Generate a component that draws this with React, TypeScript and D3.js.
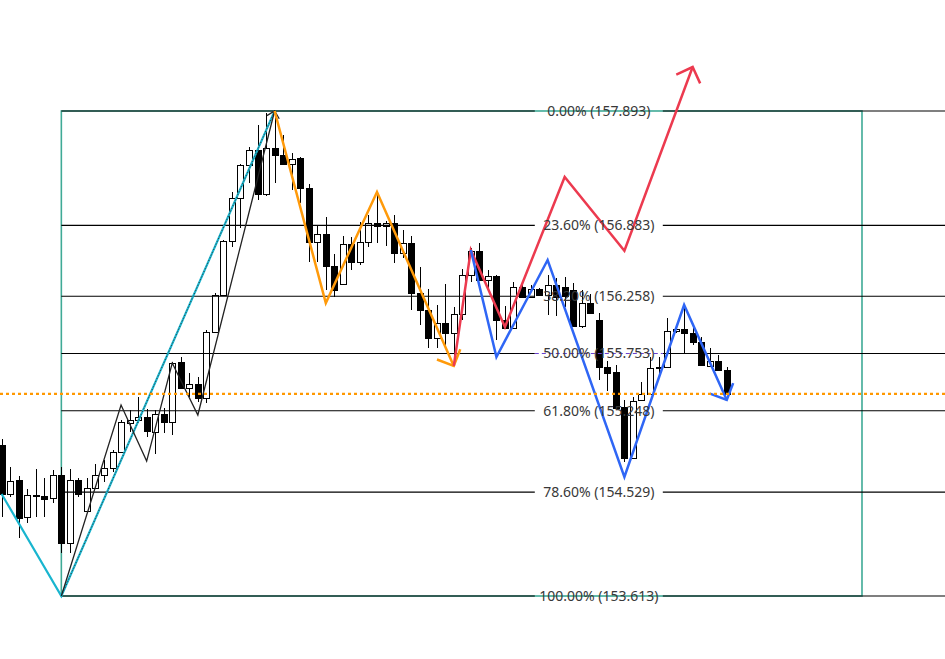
import React from 'react';
import * as d3 from 'd3';

const W = 945;
const H = 659;

const opens = [
  154.946, 154.513, 154.637, 154.310, 154.504, 154.495, 154.478, 154.681, 154.081, 154.637,
  154.363, 154.566, 154.681, 154.743, 154.884, 155.140, 155.166, 155.193, 155.060, 155.219,
  155.148, 155.678, 155.449, 155.484, 155.360, 155.943, 156.269, 156.746, 157.125, 157.417,
  157.549, 157.161, 157.567, 157.505, 157.425, 157.478, 157.214, 156.737, 156.808, 156.525,
  156.366, 156.719, 156.560, 156.737, 156.905, 156.878, 156.905, 156.640, 156.728, 156.287,
  156.137, 155.890, 156.022, 155.934, 156.102, 156.446, 156.658, 156.402, 156.437, 156.049,
  155.978, 156.340, 156.252, 156.322, 156.269, 156.358, 156.340, 156.313, 155.996, 156.199,
  156.049, 155.634, 155.590, 155.281, 154.831, 155.343, 155.396, 155.625, 155.634, 155.952,
  155.969, 155.934, 155.854, 155.643, 155.687, 155.607,
];
const highs = [
  154.998, 154.751, 154.672, 154.557, 154.734, 154.654, 154.725, 154.751, 154.734, 154.654,
  154.654, 154.778, 154.813, 154.901, 155.166, 155.254, 155.369, 155.263, 155.254, 155.272,
  155.678, 155.722, 155.581, 155.546, 155.960, 156.287, 156.755, 157.178, 157.425, 157.575,
  157.770, 157.875, 157.893, 157.681, 157.522, 157.485, 157.249, 156.887, 156.958, 156.631,
  156.790, 156.781, 156.913, 156.975, 157.178, 156.922, 156.975, 156.843, 156.790, 156.516,
  156.322, 156.181, 156.366, 156.163, 156.499, 156.684, 156.728, 156.490, 156.445, 156.172,
  156.384, 156.358, 156.358, 156.330, 156.446, 156.419, 156.428, 156.375, 156.313, 156.278,
  156.110, 155.687, 155.652, 155.343, 155.369, 155.501, 155.722, 155.722, 156.066, 155.987,
  156.163, 155.978, 155.899, 155.802, 155.740, 155.634,
];
const lows = [
  154.310, 154.487, 154.125, 154.257, 154.310, 154.310, 154.434, 153.992, 153.992, 154.487,
  154.355, 154.560, 154.619, 154.707, 154.884, 155.060, 155.140, 155.016, 154.866, 155.051,
  155.034, 155.440, 155.369, 155.325, 155.316, 155.935, 156.260, 156.693, 156.861, 157.258,
  157.108, 157.143, 157.258, 157.420, 157.196, 157.081, 156.560, 156.560, 156.313, 156.252,
  156.360, 156.490, 156.534, 156.693, 156.728, 156.702, 156.552, 156.596, 156.137, 156.004,
  155.802, 155.802, 155.802, 155.678, 156.049, 156.384, 156.395, 156.296, 155.872, 155.970,
  155.970, 156.243, 156.245, 156.260, 156.093, 156.084, 156.163, 155.990, 155.978, 156.105,
  155.519, 155.422, 155.265, 154.795, 154.825, 155.336, 155.390, 155.572, 155.628, 155.934,
  155.757, 155.828, 155.645, 155.636, 155.600, 155.387,
];
const closes = [
  154.513, 154.628, 154.301, 154.504, 154.502, 154.469, 154.681, 154.081, 154.637, 154.513,
  154.566, 154.681, 154.743, 154.884, 155.148, 155.166, 155.193, 155.069, 155.219, 155.148,
  155.669, 155.449, 155.484, 155.360, 155.943, 156.269, 156.746, 157.125, 157.417, 157.549,
  157.161, 157.567, 157.505, 157.425, 157.469, 157.214, 156.737, 156.808, 156.525, 156.313,
  156.719, 156.560, 156.737, 156.905, 156.878, 156.905, 156.640, 156.728, 156.287, 156.137,
  155.890, 156.022, 155.934, 156.102, 156.446, 156.658, 156.402, 156.437, 156.049, 155.978,
  156.340, 156.252, 156.322, 156.269, 156.358, 156.252, 156.260, 155.996, 156.199, 156.110,
  155.634, 155.581, 155.272, 154.831, 155.334, 155.396, 155.625, 155.634, 155.952, 155.969,
  155.934, 155.854, 155.652, 155.687, 155.607, 155.396,
];

// Fibonacci retracement
const fibHigh = 157.893;
const fibLow = 153.613;
const fibStartIdx = 7;
const fibEndIdx = 100.85;
const fibLabelIdx = 70;
const fibRatios = [0, 23.6, 38.2, 50, 61.8, 78.6, 100];

const currentPrice = 155.396;

// Zigzag wave drawings (bar index, price)
const tealIdx = [0, 7, 32];
const tealPrice = [154.513, 153.613, 157.893];
const blackIdx = [7, 14, 17, 20, 23, 32];
const blackPrice = [153.613, 155.298, 154.804, 155.669, 155.210, 157.893];
const orangeIdx = [32, 38, 44, 53];
const orangePrice = [157.893, 156.199, 157.178, 155.643];
const redIdx = [53, 55, 59, 66, 73, 81];
const redPrice = [155.643, 156.666, 155.987, 157.311, 156.660, 158.281];
const blueIdx = [55, 58, 64, 73, 80, 85];
const bluePrice = [156.666, 155.722, 156.578, 154.663, 156.181, 155.343];

export default function App() {
  const x = d3.scaleLinear().domain([-0.19, 110.58]).range([0, W]);
  const y = d3.scaleLinear().domain([153.0571, 158.8725]).range([H, 0]);

  const line = d3.line<[number, number]>().x((d) => d[0]).y((d) => d[1]);
  const pts = (idx: number[], pr: number[]) =>
    idx.map((v, k) => [x(v), y(pr[k])] as [number, number]);

  const arrow = (p: [number, number][], len: number) => {
    const a = p[p.length - 2];
    const b = p[p.length - 1];
    const ang = Math.atan2(a[1] - b[1], a[0] - b[0]);
    const d = Math.PI / 4;
    const b1: [number, number] = [b[0] + len * Math.cos(ang - d), b[1] + len * Math.sin(ang - d)];
    const b2: [number, number] = [b[0] + len * Math.cos(ang + d), b[1] + len * Math.sin(ang + d)];
    return `M${b1[0]},${b1[1]}L${b[0]},${b[1]}L${b2[0]},${b2[1]}`;
  };

  const teal = pts(tealIdx, tealPrice);
  const black = pts(blackIdx, blackPrice);
  const orange = pts(orangeIdx, orangePrice);
  const red = pts(redIdx, redPrice);
  const blue = pts(blueIdx, bluePrice);

  const fx0 = x(fibStartIdx);
  const fx1 = x(fibEndIdx);
  const lx = x(fibLabelIdx);
  const gap = 64;

  const fibs = fibRatios.map((r) => {
    const p = fibHigh - (r / 100) * (fibHigh - fibLow);
    return { r, p, yy: y(p), label: `${r.toFixed(2)}% (${p.toFixed(3)})` };
  });

  return (
    <svg
      width={W}
      height={H}
      style={{ position: 'absolute', left: 0, top: 0, background: '#fff' }}
    >
      <rect x={0} y={0} width={W} height={H} fill="#fff" />
      {/* fib rectangle */}
      <rect
        x={fx0}
        y={y(fibHigh)}
        width={fx1 - fx0}
        height={y(fibLow) - y(fibHigh)}
        fill="none"
        stroke="#3faa96"
        strokeWidth={1.6}
      />
      {/* candles */}
      <g shapeRendering="crispEdges">
        {opens.map((o, i) => {
          const c = closes[i];
          const cx = Math.round(x(i)) + 0.5;
          const top = Math.round(y(Math.max(o, c)));
          const bot = Math.round(y(Math.min(o, c)));
          const bull = c > o;
          return (
            <g key={i}>
              <line x1={cx} x2={cx} y1={y(highs[i])} y2={y(lows[i])} stroke="#000" strokeWidth={1} />
              <rect
                x={cx - 3}
                y={top + 0.5}
                width={6}
                height={Math.max(0.5, bot - top)}
                fill={bull ? '#fff' : '#000'}
                stroke="#000"
                strokeWidth={1}
              />
            </g>
          );
        })}
      </g>
      {/* fib levels */}
      {fibs.map((f) => (
        <g key={f.r}>
          <line x1={fx0} x2={lx - gap} y1={f.yy} y2={f.yy} stroke="#000" strokeWidth={1.2} />
          <line x1={lx + gap} x2={W} y1={f.yy} y2={f.yy} stroke="#000" strokeWidth={1.2} />
          {f.r === 50 && (
            <line
              x1={lx - gap}
              x2={lx + gap}
              y1={f.yy}
              y2={f.yy}
              stroke="#6a40d0"
              strokeWidth={1}
              strokeDasharray="4,3"
            />
          )}
        </g>
      ))}
      {/* zigzags */}
      <path d={line(teal) || ''} fill="none" stroke="#19b5cf" strokeWidth={2.2} />
      <path
        d={line([teal[1], teal[2]]) || ''}
        fill="none"
        stroke="#333"
        strokeWidth={1}
        strokeDasharray="1,2"
      />
      <path d={line(black) || ''} fill="none" stroke="#222" strokeWidth={1.3} />
      <path d={arrow(black, 9)} fill="none" stroke="#222" strokeWidth={1.3} />
      <path d={line(orange) || ''} fill="none" stroke="#ff9a0a" strokeWidth={2.5} />
      <path d={arrow(orange, 18)} fill="none" stroke="#ff9a0a" strokeWidth={2.5} />
      <path d={line(red) || ''} fill="none" stroke="#ec3a4f" strokeWidth={2.5} />
      <path d={arrow(red, 18)} fill="none" stroke="#ec3a4f" strokeWidth={2.5} />
      <path d={line(blue) || ''} fill="none" stroke="#2f66f5" strokeWidth={2.5} />
      <path d={arrow(blue, 18)} fill="none" stroke="#2f66f5" strokeWidth={2.5} />
      {/* current price */}
      <line
        x1={0}
        x2={W}
        y1={y(currentPrice)}
        y2={y(currentPrice)}
        stroke="#ff9800"
        strokeWidth={2.2}
        strokeDasharray="3,3"
      />
      {/* fib labels */}
      {fibs.map((f) => (
        <text
          key={'t' + f.r}
          x={lx}
          y={f.yy}
          dy="0.35em"
          textAnchor="middle"
          fontFamily="'Noto Sans', 'Liberation Sans', sans-serif"
          fontSize={14}
          fill="#383838"
        >
          {f.label}
        </text>
      ))}
    </svg>
  );
}
